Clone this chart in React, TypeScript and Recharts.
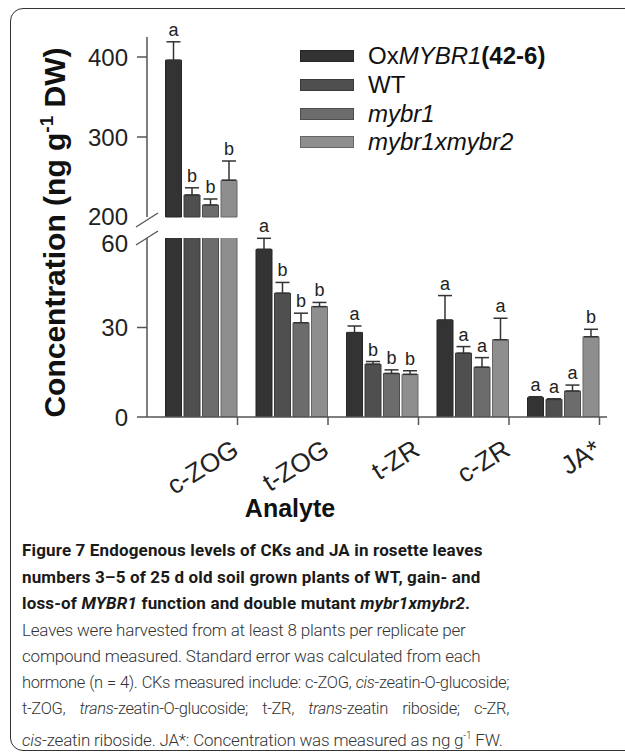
import { BarChart, Bar, XAxis, YAxis, ErrorBar, LabelList, Legend, Label } from 'recharts';

const analytes = ['c-ZOG', 't-ZOG', 't-ZR', 'c-ZR', 'JA*'];

const oxValues = [396, 56.2, 28.3, 32.5, 6.5];
const oxErrors = [23, 3.7, 2.2, 8.2, 0.3];
const oxLetters = ['a', 'a', 'a', 'a', 'a'];

const wtValues = [227.5, 41.5, 17.7, 21.4, 5.9];
const wtErrors = [9, 3.6, 0.9, 2.2, 0.2];
const wtLetters = ['b', 'b', 'b', 'a', 'a'];

const mybr1Values = [215, 31.6, 14.6, 16.7, 8.7];
const mybr1Errors = [7.5, 3.2, 1.2, 3.2, 2.0];
const mybr1Letters = ['b', 'b', 'b', 'a', 'a'];

const doubleValues = [246, 37.0, 14.3, 25.9, 26.9];
const doubleErrors = [24, 1.4, 1.2, 7.2, 2.5];
const doubleLetters = ['b', 'b', 'b', 'a', 'b'];

const upperTicks = [200, 300, 400];
const lowerTicks = [0, 30, 60];
const BREAK_LOW = 60;
const BREAK_HIGH = 200;

const series = [
  { key: 'ox', values: oxValues, errors: oxErrors, letters: oxLetters, fill: '#333333', stroke: '#262626' },
  { key: 'wt', values: wtValues, errors: wtErrors, letters: wtLetters, fill: '#4f4f4f', stroke: '#3a3a3a' },
  { key: 'mybr1', values: mybr1Values, errors: mybr1Errors, letters: mybr1Letters, fill: '#6c6c6c', stroke: '#4e4e4e' },
  { key: 'double', values: doubleValues, errors: doubleErrors, letters: doubleLetters, fill: '#8e8e8e', stroke: '#666666' },
];

const legendNames: Record<string, any> = {
  ox: <span>Ox<i>MYBR1</i><b>(42-6)</b></span>,
  wt: <span>WT</span>,
  mybr1: <i>mybr1</i>,
  double: <i>mybr1xmybr2</i>,
};

// upper panel keeps the values above the break, lower panel everything (clipped at 60)
const upperData = analytes.map((name, i) => {
  const row: any = { name };
  series.forEach((s) => {
    const v = s.values[i];
    const show = v > BREAK_LOW;
    row[s.key] = show ? v : null;
    row[s.key + 'Err'] = show ? [0, s.errors[i]] : null;
    row[s.key + 'Let'] = show ? s.letters[i] : null;
  });
  return row;
});

const lowerData = analytes.map((name, i) => {
  const row: any = { name };
  series.forEach((s) => {
    const v = s.values[i];
    const show = v <= BREAK_LOW;
    row[s.key] = v;
    row[s.key + 'Err'] = show ? [0, s.errors[i]] : null;
    row[s.key + 'Let'] = show ? s.letters[i] : null;
  });
  return row;
});

const FONT = '"Liberation Sans", Arial, sans-serif';
const AXIS = '#555555';

const YTick = (props: any) => {
  const { x, y, payload, breakAt, slashShift, labelShift } = props;
  const isBreak = payload.value === breakAt;
  return (
    <g>
      {isBreak ? (
        <line x1={x - 11} y1={y + slashShift + 7} x2={x + 11} y2={y + slashShift - 7} stroke={AXIS} strokeWidth={1.3} />
      ) : (
        <line x1={x - 10} y1={y} x2={x} y2={y} stroke={AXIS} strokeWidth={1.5} />
      )}
      <text
        x={x - 19}
        y={y + (isBreak ? labelShift : 0)}
        dy="0.36em"
        textAnchor="end"
        fontSize={24}
        fontFamily={FONT}
        fill="#222"
      >
        {payload.value}
      </text>
    </g>
  );
};

const XTick = (props: any) => {
  const { x, y, payload } = props;
  const off = payload && payload.offset != null ? payload.offset : 45.25;
  const tx = x + off;
  return (
    <g>
      <line x1={tx} y1={y} x2={tx} y2={y + 8} stroke={AXIS} strokeWidth={1.5} />
      <text
        transform={`translate(${tx + 3},${y + 37}) rotate(-32)`}
        textAnchor="end"
        fontSize={26}
        fontFamily={FONT}
        fill="#222"
      >
        {payload.value}
      </text>
    </g>
  );
};

const makeLetter = (s: any, data: any[], base: number) => (props: any) => {
  const { index } = props;
  const row = data[index];
  const letter = row ? row[s.key + 'Let'] : null;
  if (!letter) return null;
  const vb = props.viewBox || props;
  const x = vb.x;
  const width = vb.width;
  const top = Math.min(vb.y, vb.y + vb.height);
  const h = Math.abs(vb.height);
  const v = row[s.key];
  const err = row[s.key + 'Err'][1];
  const px = v - base !== 0 ? (err * h) / (v - base) : 0;
  return (
    <text x={x + width / 2} y={top - px - 6} textAnchor="middle" fontSize={18} fontFamily={FONT} fill="#222">
      {letter}
    </text>
  );
};

const LegendBox = () => (
  <div style={{ fontFamily: FONT, fontSize: 24, color: '#111' }}>
    {series.map((s) => (
      <div key={s.key} style={{ display: 'flex', alignItems: 'center', height: 28.7 }}>
        <div style={{ width: 52, height: 10, background: s.fill, border: `1px solid ${s.stroke}`, marginRight: 14 }} />
        <div style={{ lineHeight: '28px', whiteSpace: 'nowrap' }}>{legendNames[s.key]}</div>
      </div>
    ))}
  </div>
);

const renderBars = (data: any[], base: number) => [
  <Bar key="gap" dataKey="gap" fill="none" legendType="none" isAnimationActive={false} />,
  ...series.map((s) => (
    <Bar key={s.key} dataKey={s.key} fill={s.fill} stroke={s.stroke} strokeWidth={1} isAnimationActive={false}>
      <ErrorBar dataKey={s.key + 'Err'} width={7} stroke="#333" strokeWidth={1.5} direction="y" />
      <LabelList dataKey={s.key + 'Let'} content={makeLetter(s, data, base)} />
    </Bar>
  )),
];

const CHART_W = 625;

const Caption = () => {
  const bold: any = { fontWeight: 700, color: '#1a1a1a', letterSpacing: 0.15 };
  const light: any = { fontWeight: 300, color: '#333', letterSpacing: -0.2 };
  const line: any = { whiteSpace: 'nowrap', height: 26.5 };
  const just: any = {
    height: 26.5,
    width: 487,
    textAlign: 'justify',
    textAlignLast: 'justify',
    whiteSpace: 'nowrap',
    fontSize: 16.5,
    letterSpacing: -0.35,
  };
  return (
    <div
      style={{
        position: 'absolute',
        left: 22,
        top: 537,
        width: 487,
        fontFamily: 'Roboto, "Open Sans", sans-serif',
        fontSize: 17,
        lineHeight: '26.5px',
      }}
    >
      <div style={{ ...line, ...bold }}>Figure 7 Endogenous levels of CKs and JA in rosette leaves</div>
      <div style={{ ...line, ...bold }}>numbers 3–5 of 25 d old soil grown plants of WT, gain- and</div>
      <div style={{ ...line, ...bold }}>
        loss-of <i>MYBR1</i> function and double mutant <i>mybr1xmybr2</i>.
      </div>
      <div style={{ ...line, ...light }}>Leaves were harvested from at least 8 plants per replicate per</div>
      <div style={{ ...line, ...light }}>compound measured. Standard error was calculated from each</div>
      <div style={{ ...light, ...just }}>
        hormone (n = 4). CKs measured include: c-ZOG, <i>cis</i>-zeatin-O-glucoside;
      </div>
      <div style={{ ...light, ...just }}>
        t-ZOG, <i>trans</i>-zeatin-O-glucoside; t-ZR, <i>trans</i>-zeatin riboside; c-ZR,
      </div>
      <div style={{ ...line, ...light }}>
        <i>cis</i>-zeatin riboside. JA*: Concentration was measured as ng g<sup style={{ fontSize: 10 }}>-1</sup> FW.
      </div>
    </div>
  );
};

export default function App() {
  return (
    <div style={{ position: 'absolute', left: 0, top: 0, width: 625, height: 756, overflow: 'hidden', background: '#fff' }}>
      <div
        style={{
          position: 'absolute',
          left: 10,
          top: 8,
          width: 660,
          height: 743,
          border: '1.5px solid #333',
          borderRadius: 13,
          boxSizing: 'border-box',
        }}
      />
      <div style={{ position: 'absolute', left: 0, top: 0 }}>
        <BarChart
          width={CHART_W}
          height={240}
          data={upperData}
          margin={{ top: 37, right: 18, bottom: 23, left: 0 }}
          barCategoryGap={0}
          barGap={2.5}
        >
          <XAxis dataKey="name" hide padding={{ left: 0, right: 7.5 }} />
          <YAxis
            width={147}
            domain={[BREAK_HIGH, 425]}
            ticks={upperTicks}
            interval={0}
            tickSize={0}
            tickMargin={0}
            tickLine={false}
            axisLine={{ stroke: AXIS, strokeWidth: 1.5 }}
            tick={<YTick breakAt={BREAK_HIGH} slashShift={3} labelShift={-1} />}
          />
          {renderBars(upperData, BREAK_HIGH)}
          <Legend
            layout="vertical"
            align="center"
            verticalAlign="middle"
            wrapperStyle={{ left: 300, top: 42, width: 300, height: 120 }}
            content={() => <LegendBox />}
          />
        </BarChart>
      </div>
      <div style={{ position: 'absolute', left: 0, top: 0 }}>
        <BarChart
          width={CHART_W}
          height={522}
          data={lowerData}
          margin={{ top: 238, right: 18, bottom: 0, left: 0 }}
          barCategoryGap={0}
          barGap={2.5}
        >
          <XAxis
            dataKey="name"
            height={105}
            padding={{ left: 0, right: 7.5 }}
            interval={0}
            tickSize={0}
            tickMargin={0}
            tickLine={false}
            axisLine={{ stroke: AXIS, strokeWidth: 1.5 }}
            tick={<XTick />}
          >
            <Label
              content={() => (
                <text x={290} y={517} textAnchor="middle" fontSize={25} fontWeight={700} fontFamily={FONT} fill="#111">
                  Analyte
                </text>
              )}
            />
          </XAxis>
          <YAxis
            width={147}
            domain={[0, BREAK_LOW]}
            allowDataOverflow
            ticks={lowerTicks}
            interval={0}
            tickSize={0}
            tickMargin={0}
            tickLine={false}
            axisLine={{ stroke: AXIS, strokeWidth: 1.5 }}
            tick={<YTick breakAt={BREAK_LOW} slashShift={0} labelShift={5} />}
          >
            <Label
              content={() => (
                <text
                  transform="translate(65,232.5) rotate(-90)"
                  textAnchor="middle"
                  fontSize={30}
                  fontWeight={700}
                  fontFamily={FONT}
                  fill="#111"
                >
                  Concentration (ng g
                  <tspan fontSize={19} dy={-12}>-1</tspan>
                  <tspan dy={12}> DW)</tspan>
                </text>
              )}
            />
          </YAxis>
          {renderBars(lowerData, 0)}
        </BarChart>
      </div>
      <Caption />
    </div>
  );
}
